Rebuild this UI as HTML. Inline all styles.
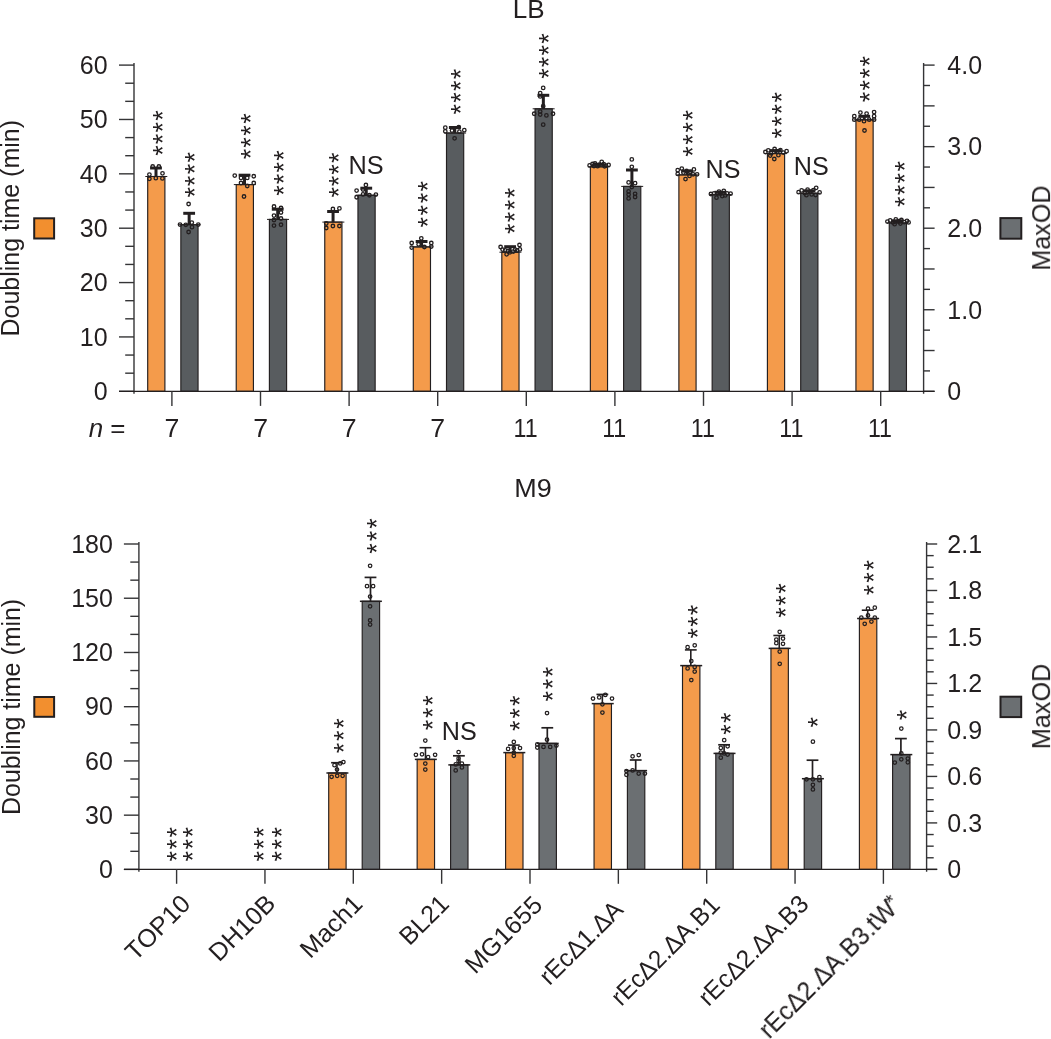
<!DOCTYPE html>
<html><head><meta charset="utf-8"><title>Growth in LB and M9</title>
<style>html,body{margin:0;padding:0;background:#fff}svg{display:block}text{font-family:"Liberation Sans",sans-serif;fill:#231f20}</style></head><body>
<svg width="1051" height="1039" viewBox="0 0 1051 1039">
<rect width="1051" height="1039" fill="#fff"/>
<g style="will-change:transform">
<g id="top-bars">
<rect x="147.7" y="176.5" width="17.2" height="214.8" fill="#f49b4b" stroke="#231f20" stroke-width="1.15"/>
<rect x="180.85" y="224.7" width="17.2" height="166.6" fill="#585c5f" stroke="#231f20" stroke-width="1.15"/>
<rect x="236.23" y="184.6" width="17.2" height="206.7" fill="#f49b4b" stroke="#231f20" stroke-width="1.15"/>
<rect x="269.4" y="219.4" width="17.2" height="171.9" fill="#585c5f" stroke="#231f20" stroke-width="1.15"/>
<rect x="324.76" y="222.1" width="17.2" height="169.2" fill="#f49b4b" stroke="#231f20" stroke-width="1.15"/>
<rect x="357.95" y="195.25" width="17.2" height="196.05" fill="#585c5f" stroke="#231f20" stroke-width="1.15"/>
<rect x="413.29" y="246.9" width="17.2" height="144.4" fill="#f49b4b" stroke="#231f20" stroke-width="1.15"/>
<rect x="446.5" y="133" width="17.2" height="258.3" fill="#585c5f" stroke="#231f20" stroke-width="1.15"/>
<rect x="501.82" y="252.2" width="17.2" height="139.1" fill="#f49b4b" stroke="#231f20" stroke-width="1.15"/>
<rect x="535.05" y="108.8" width="17.2" height="282.5" fill="#585c5f" stroke="#231f20" stroke-width="1.15"/>
<rect x="590.35" y="166.8" width="17.2" height="224.5" fill="#f49b4b" stroke="#231f20" stroke-width="1.15"/>
<rect x="623.6" y="186.4" width="17.2" height="204.9" fill="#585c5f" stroke="#231f20" stroke-width="1.15"/>
<rect x="678.88" y="174.9" width="17.2" height="216.4" fill="#f49b4b" stroke="#231f20" stroke-width="1.15"/>
<rect x="712.15" y="194.5" width="17.2" height="196.8" fill="#585c5f" stroke="#231f20" stroke-width="1.15"/>
<rect x="767.41" y="153.6" width="17.2" height="237.7" fill="#f49b4b" stroke="#231f20" stroke-width="1.15"/>
<rect x="800.7" y="193.3" width="17.2" height="198" fill="#585c5f" stroke="#231f20" stroke-width="1.15"/>
<rect x="855.94" y="119.8" width="17.2" height="271.5" fill="#f49b4b" stroke="#231f20" stroke-width="1.15"/>
<rect x="889.25" y="222.9" width="17.2" height="168.4" fill="#585c5f" stroke="#231f20" stroke-width="1.15"/>
</g>
<g id="top-err">
<line x1="145.3" y1="176.5" x2="167.3" y2="176.5" stroke="#231f20" stroke-width="1.0" stroke-linecap="butt"/>
<line x1="178.45" y1="224.7" x2="200.45" y2="224.7" stroke="#231f20" stroke-width="1.0" stroke-linecap="butt"/>
<line x1="156" y1="176.5" x2="156" y2="168" stroke="#231f20" stroke-width="3.0" stroke-linecap="butt"/>
<line x1="150.1" y1="168" x2="161.9" y2="168" stroke="#231f20" stroke-width="3.0" stroke-linecap="butt"/>
<line x1="189.15" y1="224.7" x2="189.15" y2="213.3" stroke="#231f20" stroke-width="3.0" stroke-linecap="butt"/>
<line x1="183.25" y1="213.3" x2="195.05" y2="213.3" stroke="#231f20" stroke-width="3.0" stroke-linecap="butt"/>
<line x1="233.83" y1="184.6" x2="255.83" y2="184.6" stroke="#231f20" stroke-width="1.0" stroke-linecap="butt"/>
<line x1="267" y1="219.4" x2="289" y2="219.4" stroke="#231f20" stroke-width="1.0" stroke-linecap="butt"/>
<line x1="244.53" y1="184.6" x2="244.53" y2="175.2" stroke="#231f20" stroke-width="3.0" stroke-linecap="butt"/>
<line x1="238.63" y1="175.2" x2="250.43" y2="175.2" stroke="#231f20" stroke-width="3.0" stroke-linecap="butt"/>
<line x1="277.7" y1="219.4" x2="277.7" y2="209.2" stroke="#231f20" stroke-width="3.0" stroke-linecap="butt"/>
<line x1="271.8" y1="209.2" x2="283.6" y2="209.2" stroke="#231f20" stroke-width="3.0" stroke-linecap="butt"/>
<line x1="322.36" y1="222.1" x2="344.36" y2="222.1" stroke="#231f20" stroke-width="1.0" stroke-linecap="butt"/>
<line x1="355.55" y1="195.25" x2="377.55" y2="195.25" stroke="#231f20" stroke-width="1.0" stroke-linecap="butt"/>
<line x1="333.06" y1="222.1" x2="333.06" y2="211.5" stroke="#231f20" stroke-width="3.0" stroke-linecap="butt"/>
<line x1="327.16" y1="211.5" x2="338.96" y2="211.5" stroke="#231f20" stroke-width="3.0" stroke-linecap="butt"/>
<line x1="366.25" y1="195.25" x2="366.25" y2="188.2" stroke="#231f20" stroke-width="3.0" stroke-linecap="butt"/>
<line x1="360.35" y1="188.2" x2="372.15" y2="188.2" stroke="#231f20" stroke-width="3.0" stroke-linecap="butt"/>
<line x1="410.89" y1="246.9" x2="432.89" y2="246.9" stroke="#231f20" stroke-width="1.0" stroke-linecap="butt"/>
<line x1="444.1" y1="133" x2="466.1" y2="133" stroke="#231f20" stroke-width="1.0" stroke-linecap="butt"/>
<line x1="421.59" y1="246.9" x2="421.59" y2="241.5" stroke="#231f20" stroke-width="3.0" stroke-linecap="butt"/>
<line x1="415.69" y1="241.5" x2="427.49" y2="241.5" stroke="#231f20" stroke-width="3.0" stroke-linecap="butt"/>
<line x1="454.8" y1="133" x2="454.8" y2="127.5" stroke="#231f20" stroke-width="3.0" stroke-linecap="butt"/>
<line x1="448.9" y1="127.5" x2="460.7" y2="127.5" stroke="#231f20" stroke-width="3.0" stroke-linecap="butt"/>
<line x1="499.42" y1="252.2" x2="521.42" y2="252.2" stroke="#231f20" stroke-width="1.0" stroke-linecap="butt"/>
<line x1="532.65" y1="108.8" x2="554.65" y2="108.8" stroke="#231f20" stroke-width="1.0" stroke-linecap="butt"/>
<line x1="510.12" y1="252.2" x2="510.12" y2="246.7" stroke="#231f20" stroke-width="3.0" stroke-linecap="butt"/>
<line x1="504.22" y1="246.7" x2="516.02" y2="246.7" stroke="#231f20" stroke-width="3.0" stroke-linecap="butt"/>
<line x1="543.35" y1="108.8" x2="543.35" y2="95.3" stroke="#231f20" stroke-width="3.0" stroke-linecap="butt"/>
<line x1="537.45" y1="95.3" x2="549.25" y2="95.3" stroke="#231f20" stroke-width="3.0" stroke-linecap="butt"/>
<line x1="587.95" y1="166.8" x2="609.95" y2="166.8" stroke="#231f20" stroke-width="1.0" stroke-linecap="butt"/>
<line x1="621.2" y1="186.4" x2="643.2" y2="186.4" stroke="#231f20" stroke-width="1.0" stroke-linecap="butt"/>
<line x1="598.65" y1="166.8" x2="598.65" y2="164.3" stroke="#231f20" stroke-width="3.0" stroke-linecap="butt"/>
<line x1="592.75" y1="164.3" x2="604.55" y2="164.3" stroke="#231f20" stroke-width="3.0" stroke-linecap="butt"/>
<line x1="631.9" y1="186.4" x2="631.9" y2="170" stroke="#231f20" stroke-width="3.0" stroke-linecap="butt"/>
<line x1="626" y1="170" x2="637.8" y2="170" stroke="#231f20" stroke-width="3.0" stroke-linecap="butt"/>
<line x1="676.48" y1="174.9" x2="698.48" y2="174.9" stroke="#231f20" stroke-width="1.0" stroke-linecap="butt"/>
<line x1="709.75" y1="194.5" x2="731.75" y2="194.5" stroke="#231f20" stroke-width="1.0" stroke-linecap="butt"/>
<line x1="687.18" y1="174.9" x2="687.18" y2="171" stroke="#231f20" stroke-width="3.0" stroke-linecap="butt"/>
<line x1="681.28" y1="171" x2="693.08" y2="171" stroke="#231f20" stroke-width="3.0" stroke-linecap="butt"/>
<line x1="720.45" y1="194.5" x2="720.45" y2="192.3" stroke="#231f20" stroke-width="3.0" stroke-linecap="butt"/>
<line x1="714.55" y1="192.3" x2="726.35" y2="192.3" stroke="#231f20" stroke-width="3.0" stroke-linecap="butt"/>
<line x1="765.01" y1="153.6" x2="787.01" y2="153.6" stroke="#231f20" stroke-width="1.0" stroke-linecap="butt"/>
<line x1="798.3" y1="193.3" x2="820.3" y2="193.3" stroke="#231f20" stroke-width="1.0" stroke-linecap="butt"/>
<line x1="775.71" y1="153.6" x2="775.71" y2="150.6" stroke="#231f20" stroke-width="3.0" stroke-linecap="butt"/>
<line x1="769.81" y1="150.6" x2="781.61" y2="150.6" stroke="#231f20" stroke-width="3.0" stroke-linecap="butt"/>
<line x1="809" y1="193.3" x2="809" y2="190.8" stroke="#231f20" stroke-width="3.0" stroke-linecap="butt"/>
<line x1="803.1" y1="190.8" x2="814.9" y2="190.8" stroke="#231f20" stroke-width="3.0" stroke-linecap="butt"/>
<line x1="853.54" y1="119.8" x2="875.54" y2="119.8" stroke="#231f20" stroke-width="1.0" stroke-linecap="butt"/>
<line x1="886.85" y1="222.9" x2="908.85" y2="222.9" stroke="#231f20" stroke-width="1.0" stroke-linecap="butt"/>
<line x1="864.24" y1="119.8" x2="864.24" y2="116.3" stroke="#231f20" stroke-width="3.0" stroke-linecap="butt"/>
<line x1="858.34" y1="116.3" x2="870.14" y2="116.3" stroke="#231f20" stroke-width="3.0" stroke-linecap="butt"/>
<line x1="897.55" y1="222.9" x2="897.55" y2="220.8" stroke="#231f20" stroke-width="3.0" stroke-linecap="butt"/>
<line x1="891.65" y1="220.8" x2="903.45" y2="220.8" stroke="#231f20" stroke-width="3.0" stroke-linecap="butt"/>
</g>
<g id="top-axes">
<line x1="134" y1="62.9" x2="134" y2="393.7" stroke="#343436" stroke-width="1.4" stroke-linecap="butt"/>
<line x1="923.6" y1="62.9" x2="923.6" y2="393.7" stroke="#343436" stroke-width="1.4" stroke-linecap="butt"/>
<line x1="119" y1="65.1" x2="134" y2="65.1" stroke="#343436" stroke-width="1.4" stroke-linecap="butt"/>
<line x1="125.2" y1="83.22" x2="134" y2="83.22" stroke="#343436" stroke-width="1.4" stroke-linecap="butt"/>
<line x1="125.2" y1="101.34" x2="134" y2="101.34" stroke="#343436" stroke-width="1.4" stroke-linecap="butt"/>
<line x1="119" y1="119.47" x2="134" y2="119.47" stroke="#343436" stroke-width="1.4" stroke-linecap="butt"/>
<line x1="125.2" y1="137.59" x2="134" y2="137.59" stroke="#343436" stroke-width="1.4" stroke-linecap="butt"/>
<line x1="125.2" y1="155.71" x2="134" y2="155.71" stroke="#343436" stroke-width="1.4" stroke-linecap="butt"/>
<line x1="119" y1="173.83" x2="134" y2="173.83" stroke="#343436" stroke-width="1.4" stroke-linecap="butt"/>
<line x1="125.2" y1="191.96" x2="134" y2="191.96" stroke="#343436" stroke-width="1.4" stroke-linecap="butt"/>
<line x1="125.2" y1="210.08" x2="134" y2="210.08" stroke="#343436" stroke-width="1.4" stroke-linecap="butt"/>
<line x1="119" y1="228.2" x2="134" y2="228.2" stroke="#343436" stroke-width="1.4" stroke-linecap="butt"/>
<line x1="125.2" y1="246.32" x2="134" y2="246.32" stroke="#343436" stroke-width="1.4" stroke-linecap="butt"/>
<line x1="125.2" y1="264.44" x2="134" y2="264.44" stroke="#343436" stroke-width="1.4" stroke-linecap="butt"/>
<line x1="119" y1="282.57" x2="134" y2="282.57" stroke="#343436" stroke-width="1.4" stroke-linecap="butt"/>
<line x1="125.2" y1="300.69" x2="134" y2="300.69" stroke="#343436" stroke-width="1.4" stroke-linecap="butt"/>
<line x1="125.2" y1="318.81" x2="134" y2="318.81" stroke="#343436" stroke-width="1.4" stroke-linecap="butt"/>
<line x1="119" y1="336.93" x2="134" y2="336.93" stroke="#343436" stroke-width="1.4" stroke-linecap="butt"/>
<line x1="125.2" y1="355.06" x2="134" y2="355.06" stroke="#343436" stroke-width="1.4" stroke-linecap="butt"/>
<line x1="125.2" y1="373.18" x2="134" y2="373.18" stroke="#343436" stroke-width="1.4" stroke-linecap="butt"/>
<line x1="119" y1="391.3" x2="134" y2="391.3" stroke="#343436" stroke-width="1.4" stroke-linecap="butt"/>
<line x1="923.6" y1="65.1" x2="934.6" y2="65.1" stroke="#343436" stroke-width="1.4" stroke-linecap="butt"/>
<line x1="923.6" y1="85.49" x2="930" y2="85.49" stroke="#343436" stroke-width="1.4" stroke-linecap="butt"/>
<line x1="923.6" y1="105.88" x2="934.6" y2="105.88" stroke="#343436" stroke-width="1.4" stroke-linecap="butt"/>
<line x1="923.6" y1="126.26" x2="930" y2="126.26" stroke="#343436" stroke-width="1.4" stroke-linecap="butt"/>
<line x1="923.6" y1="146.65" x2="934.6" y2="146.65" stroke="#343436" stroke-width="1.4" stroke-linecap="butt"/>
<line x1="923.6" y1="167.04" x2="930" y2="167.04" stroke="#343436" stroke-width="1.4" stroke-linecap="butt"/>
<line x1="923.6" y1="187.43" x2="934.6" y2="187.43" stroke="#343436" stroke-width="1.4" stroke-linecap="butt"/>
<line x1="923.6" y1="207.81" x2="930" y2="207.81" stroke="#343436" stroke-width="1.4" stroke-linecap="butt"/>
<line x1="923.6" y1="228.2" x2="934.6" y2="228.2" stroke="#343436" stroke-width="1.4" stroke-linecap="butt"/>
<line x1="923.6" y1="248.59" x2="930" y2="248.59" stroke="#343436" stroke-width="1.4" stroke-linecap="butt"/>
<line x1="923.6" y1="268.98" x2="934.6" y2="268.98" stroke="#343436" stroke-width="1.4" stroke-linecap="butt"/>
<line x1="923.6" y1="289.36" x2="930" y2="289.36" stroke="#343436" stroke-width="1.4" stroke-linecap="butt"/>
<line x1="923.6" y1="309.75" x2="934.6" y2="309.75" stroke="#343436" stroke-width="1.4" stroke-linecap="butt"/>
<line x1="923.6" y1="330.14" x2="930" y2="330.14" stroke="#343436" stroke-width="1.4" stroke-linecap="butt"/>
<line x1="923.6" y1="350.53" x2="934.6" y2="350.53" stroke="#343436" stroke-width="1.4" stroke-linecap="butt"/>
<line x1="923.6" y1="370.91" x2="930" y2="370.91" stroke="#343436" stroke-width="1.4" stroke-linecap="butt"/>
<line x1="923.6" y1="391.3" x2="934.6" y2="391.3" stroke="#343436" stroke-width="1.4" stroke-linecap="butt"/>
<line x1="119" y1="391.3" x2="934.6" y2="391.3" stroke="#231f20" stroke-width="1.2" stroke-linecap="butt"/>
<line x1="171.9" y1="391.3" x2="171.9" y2="405.9" stroke="#343436" stroke-width="1.4" stroke-linecap="butt"/>
<line x1="260.5" y1="391.3" x2="260.5" y2="405.9" stroke="#343436" stroke-width="1.4" stroke-linecap="butt"/>
<line x1="349.1" y1="391.3" x2="349.1" y2="405.9" stroke="#343436" stroke-width="1.4" stroke-linecap="butt"/>
<line x1="437.7" y1="391.3" x2="437.7" y2="405.9" stroke="#343436" stroke-width="1.4" stroke-linecap="butt"/>
<line x1="526.3" y1="391.3" x2="526.3" y2="405.9" stroke="#343436" stroke-width="1.4" stroke-linecap="butt"/>
<line x1="614.9" y1="391.3" x2="614.9" y2="405.9" stroke="#343436" stroke-width="1.4" stroke-linecap="butt"/>
<line x1="703.5" y1="391.3" x2="703.5" y2="405.9" stroke="#343436" stroke-width="1.4" stroke-linecap="butt"/>
<line x1="792.1" y1="391.3" x2="792.1" y2="405.9" stroke="#343436" stroke-width="1.4" stroke-linecap="butt"/>
<line x1="880.7" y1="391.3" x2="880.7" y2="405.9" stroke="#343436" stroke-width="1.4" stroke-linecap="butt"/>
</g>
<g id="top-labels">
<text x="107.6" y="73.85" font-size="25.0" text-anchor="end" >60</text>
<text x="107.6" y="128.22" font-size="25.0" text-anchor="end" >50</text>
<text x="107.6" y="182.58" font-size="25.0" text-anchor="end" >40</text>
<text x="107.6" y="236.95" font-size="25.0" text-anchor="end" >30</text>
<text x="107.6" y="291.32" font-size="25.0" text-anchor="end" >20</text>
<text x="107.6" y="345.68" font-size="25.0" text-anchor="end" >10</text>
<text x="107.6" y="400.05" font-size="25.0" text-anchor="end" >0</text>
<text x="947.3" y="73.85" font-size="25.0" text-anchor="start" >4.0</text>
<text x="947.3" y="155.4" font-size="25.0" text-anchor="start" >3.0</text>
<text x="947.3" y="236.95" font-size="25.0" text-anchor="start" >2.0</text>
<text x="947.3" y="318.5" font-size="25.0" text-anchor="start" >1.0</text>
<text x="947.3" y="400.05" font-size="25.0" text-anchor="start" >0</text>
<text x="512.72" y="17.9" font-size="25.2" textLength="31.87" lengthAdjust="spacingAndGlyphs">LB</text>
<text x="88.68" y="436.5" font-size="25.0" textLength="36.87" lengthAdjust="spacingAndGlyphs"><tspan font-style="italic">n</tspan> =</text>
<text x="164.56" y="436.5" font-size="25.0" textLength="14.87" lengthAdjust="spacingAndGlyphs">7</text>
<text x="253.16" y="436.5" font-size="25.0" textLength="14.87" lengthAdjust="spacingAndGlyphs">7</text>
<text x="341.76" y="436.5" font-size="25.0" textLength="14.87" lengthAdjust="spacingAndGlyphs">7</text>
<text x="430.36" y="436.5" font-size="25.0" textLength="14.87" lengthAdjust="spacingAndGlyphs">7</text>
<text x="513.55" y="436.5" font-size="25.0" textLength="24.07" lengthAdjust="spacingAndGlyphs">11</text>
<text x="602.15" y="436.5" font-size="25.0" textLength="24.07" lengthAdjust="spacingAndGlyphs">11</text>
<text x="690.75" y="436.5" font-size="25.0" textLength="24.07" lengthAdjust="spacingAndGlyphs">11</text>
<text x="779.35" y="436.5" font-size="25.0" textLength="24.07" lengthAdjust="spacingAndGlyphs">11</text>
<text x="867.95" y="436.5" font-size="25.0" textLength="24.07" lengthAdjust="spacingAndGlyphs">11</text>
<text transform="translate(19.4 336.5) rotate(-90)" font-size="25.2" textLength="216.48" lengthAdjust="spacingAndGlyphs">Doubling time (min)</text>
<text transform="translate(1050.1 270.61) rotate(-90)" font-size="25.2" textLength="85.04" lengthAdjust="spacingAndGlyphs">MaxOD</text>
</g>
<rect x="34.2" y="218.3" width="19.9" height="20.2" fill="#f28f2f" stroke="#231f20" stroke-width="2"/>
<rect x="1000.4" y="218.1" width="20.9" height="20.6" fill="#6b6f72" stroke="#231f20" stroke-width="2"/>
<g id="top-sig">
<text transform="translate(171.91 120.77) rotate(-90)" font-size="27.0">*</text>
<text transform="translate(171.91 132.56) rotate(-90)" font-size="27.0">*</text>
<text transform="translate(171.91 144.26) rotate(-90)" font-size="27.0">*</text>
<text transform="translate(171.91 155.87) rotate(-90)" font-size="27.0">*</text>
<text transform="translate(203.91 162.51) rotate(-90)" font-size="27.0">*</text>
<text transform="translate(203.91 174.26) rotate(-90)" font-size="27.0">*</text>
<text transform="translate(203.91 186.17) rotate(-90)" font-size="27.0">*</text>
<text transform="translate(203.91 197.56) rotate(-90)" font-size="27.0">*</text>
<text transform="translate(260 123.67) rotate(-90)" font-size="27.0">*</text>
<text transform="translate(260 135.67) rotate(-90)" font-size="27.0">*</text>
<text transform="translate(260 147.67) rotate(-90)" font-size="27.0">*</text>
<text transform="translate(260 159.26) rotate(-90)" font-size="27.0">*</text>
<text transform="translate(292.65 160.67) rotate(-90)" font-size="27.0">*</text>
<text transform="translate(292.65 172.51) rotate(-90)" font-size="27.0">*</text>
<text transform="translate(292.65 184.26) rotate(-90)" font-size="27.0">*</text>
<text transform="translate(292.65 195.87) rotate(-90)" font-size="27.0">*</text>
<text transform="translate(347.65 163.01) rotate(-90)" font-size="27.0">*</text>
<text transform="translate(347.65 174.67) rotate(-90)" font-size="27.0">*</text>
<text transform="translate(347.65 186.26) rotate(-90)" font-size="27.0">*</text>
<text transform="translate(347.65 197.56) rotate(-90)" font-size="27.0">*</text>
<text transform="translate(436.8 191.51) rotate(-90)" font-size="27.0">*</text>
<text transform="translate(436.8 203.37) rotate(-90)" font-size="27.0">*</text>
<text transform="translate(436.8 215.51) rotate(-90)" font-size="27.0">*</text>
<text transform="translate(436.8 227.56) rotate(-90)" font-size="27.0">*</text>
<text transform="translate(469.9 79.27) rotate(-90)" font-size="27.0">*</text>
<text transform="translate(469.9 91.06) rotate(-90)" font-size="27.0">*</text>
<text transform="translate(469.9 102.67) rotate(-90)" font-size="27.0">*</text>
<text transform="translate(469.9 114.47) rotate(-90)" font-size="27.0">*</text>
<text transform="translate(524.21 198.26) rotate(-90)" font-size="27.0">*</text>
<text transform="translate(524.21 210.26) rotate(-90)" font-size="27.0">*</text>
<text transform="translate(524.21 222.26) rotate(-90)" font-size="27.0">*</text>
<text transform="translate(524.21 233.96) rotate(-90)" font-size="27.0">*</text>
<text transform="translate(557.9 43.77) rotate(-90)" font-size="27.0">*</text>
<text transform="translate(557.9 55.56) rotate(-90)" font-size="27.0">*</text>
<text transform="translate(557.9 67.37) rotate(-90)" font-size="27.0">*</text>
<text transform="translate(557.9 78.86) rotate(-90)" font-size="27.0">*</text>
<text transform="translate(701.9 120.47) rotate(-90)" font-size="27.0">*</text>
<text transform="translate(701.9 132.56) rotate(-90)" font-size="27.0">*</text>
<text transform="translate(701.9 144.67) rotate(-90)" font-size="27.0">*</text>
<text transform="translate(701.9 156.76) rotate(-90)" font-size="27.0">*</text>
<text transform="translate(790.7 102.47) rotate(-90)" font-size="27.0">*</text>
<text transform="translate(790.7 114.56) rotate(-90)" font-size="27.0">*</text>
<text transform="translate(790.7 126.56) rotate(-90)" font-size="27.0">*</text>
<text transform="translate(790.7 138.46) rotate(-90)" font-size="27.0">*</text>
<text transform="translate(878.8 66.47) rotate(-90)" font-size="27.0">*</text>
<text transform="translate(878.8 78.56) rotate(-90)" font-size="27.0">*</text>
<text transform="translate(878.8 90.56) rotate(-90)" font-size="27.0">*</text>
<text transform="translate(878.8 102.36) rotate(-90)" font-size="27.0">*</text>
<text transform="translate(913.7 171.56) rotate(-90)" font-size="27.0">*</text>
<text transform="translate(913.7 183.46) rotate(-90)" font-size="27.0">*</text>
<text transform="translate(913.7 195.26) rotate(-90)" font-size="27.0">*</text>
<text transform="translate(913.7 207.06) rotate(-90)" font-size="27.0">*</text>
<text x="348.57" y="173.8" font-size="25.2" textLength="35.17" lengthAdjust="spacingAndGlyphs">NS</text>
<text x="705.59" y="177.8" font-size="25.2" textLength="34.84" lengthAdjust="spacingAndGlyphs">NS</text>
<text x="793.79" y="174.5" font-size="25.2" textLength="34.95" lengthAdjust="spacingAndGlyphs">NS</text>
</g>
<g id="top-dots" fill="none" stroke="#231f20" stroke-width="1.3">
<circle cx="152.7" cy="166.5" r="1.75"/>
<circle cx="158.9" cy="166.5" r="1.75"/>
<circle cx="162.5" cy="173.3" r="1.75"/>
<circle cx="149.4" cy="174.6" r="1.75"/>
<circle cx="149.4" cy="178.8" r="1.75"/>
<circle cx="155.8" cy="178.2" r="1.75"/>
<circle cx="162.4" cy="178.4" r="1.75"/>
<circle cx="188.6" cy="204" r="1.75"/>
<circle cx="180" cy="224.6" r="1.75"/>
<circle cx="185.8" cy="224.8" r="1.75"/>
<circle cx="191.8" cy="222.6" r="1.75"/>
<circle cx="198.3" cy="224.6" r="1.75"/>
<circle cx="192" cy="227.2" r="1.75"/>
<circle cx="188.6" cy="232" r="1.75"/>
<circle cx="234.75" cy="175.6" r="1.75"/>
<circle cx="253.75" cy="176.25" r="1.75"/>
<circle cx="241" cy="177.9" r="1.75"/>
<circle cx="247.25" cy="177.9" r="1.75"/>
<circle cx="241" cy="183" r="1.75"/>
<circle cx="253.75" cy="183" r="1.75"/>
<circle cx="247.25" cy="186" r="1.75"/>
<circle cx="244" cy="196.5" r="1.75"/>
<circle cx="274" cy="206.5" r="1.75"/>
<circle cx="281" cy="208" r="1.75"/>
<circle cx="281" cy="212.5" r="1.75"/>
<circle cx="274" cy="215.6" r="1.75"/>
<circle cx="281" cy="218.5" r="1.75"/>
<circle cx="274" cy="220" r="1.75"/>
<circle cx="274" cy="225.6" r="1.75"/>
<circle cx="281" cy="224.75" r="1.75"/>
<circle cx="339.4" cy="208.4" r="1.75"/>
<circle cx="332.9" cy="209" r="1.75"/>
<circle cx="326.25" cy="223.5" r="1.75"/>
<circle cx="326.25" cy="228" r="1.75"/>
<circle cx="332.9" cy="226" r="1.75"/>
<circle cx="339.4" cy="226" r="1.75"/>
<circle cx="365.9" cy="185" r="1.75"/>
<circle cx="356.6" cy="190.6" r="1.75"/>
<circle cx="356.6" cy="197.25" r="1.75"/>
<circle cx="375.9" cy="194.6" r="1.75"/>
<circle cx="363" cy="194.4" r="1.75"/>
<circle cx="369.4" cy="195.25" r="1.75"/>
<circle cx="363" cy="189.5" r="1.75"/>
<circle cx="543.2" cy="87.9" r="1.75"/>
<circle cx="540.2" cy="93.1" r="1.75"/>
<circle cx="540.2" cy="96.4" r="1.75"/>
<circle cx="543.2" cy="106.2" r="1.75"/>
<circle cx="534.2" cy="113.75" r="1.75"/>
<circle cx="540.2" cy="111.6" r="1.75"/>
<circle cx="540.2" cy="114.6" r="1.75"/>
<circle cx="546.4" cy="115.4" r="1.75"/>
<circle cx="553" cy="113.75" r="1.75"/>
<circle cx="543.2" cy="124.7" r="1.75"/>
<circle cx="631.8" cy="159.4" r="1.75"/>
<circle cx="631.8" cy="166.8" r="1.75"/>
<circle cx="628.6" cy="182.4" r="1.75"/>
<circle cx="635.1" cy="183.2" r="1.75"/>
<circle cx="631.8" cy="187" r="1.75"/>
<circle cx="628.6" cy="191.4" r="1.75"/>
<circle cx="628.6" cy="194.6" r="1.75"/>
<circle cx="628.6" cy="198.4" r="1.75"/>
<circle cx="635.1" cy="193.8" r="1.75"/>
<circle cx="635.1" cy="197" r="1.75"/>
<circle cx="864.5" cy="130.5" r="1.75"/>
<circle cx="454.6" cy="138.3" r="1.75"/>
<circle cx="411.7" cy="243" r="1.75"/>
<circle cx="411.7" cy="247.6" r="1.75"/>
<circle cx="421.3" cy="238.3" r="1.75"/>
<circle cx="431.3" cy="243" r="1.75"/>
<circle cx="431.3" cy="246.6" r="1.75"/>
<circle cx="424.4" cy="247" r="1.75"/>
<circle cx="418.6" cy="244.3" r="1.75"/>
<circle cx="445.3" cy="127.7" r="1.75"/>
<circle cx="445.3" cy="131.3" r="1.75"/>
<circle cx="464.3" cy="130.2" r="1.75"/>
<circle cx="459.4" cy="131.7" r="1.75"/>
<circle cx="458.8" cy="127.2" r="1.75"/>
<circle cx="452" cy="130.6" r="1.75"/>
<circle cx="500.6" cy="247" r="1.75"/>
<circle cx="502.6" cy="249.6" r="1.75"/>
<circle cx="519.5" cy="245" r="1.75"/>
<circle cx="519.9" cy="249.4" r="1.75"/>
<circle cx="517.2" cy="250.3" r="1.75"/>
<circle cx="506.6" cy="254.3" r="1.75"/>
<circle cx="509.9" cy="252.3" r="1.75"/>
<circle cx="513.2" cy="251.6" r="1.75"/>
<circle cx="505.2" cy="250.3" r="1.75"/>
<circle cx="507.9" cy="251" r="1.75"/>
<circle cx="515.2" cy="249.6" r="1.75"/>
<circle cx="601.7" cy="161.8" r="1.75"/>
<circle cx="589.6" cy="165.4" r="1.75"/>
<circle cx="608.6" cy="164.9" r="1.75"/>
<circle cx="597.6" cy="166.2" r="1.75"/>
<circle cx="592.5" cy="164" r="1.75"/>
<circle cx="595" cy="163.5" r="1.75"/>
<circle cx="599.5" cy="164.6" r="1.75"/>
<circle cx="603.8" cy="164.2" r="1.75"/>
<circle cx="606" cy="165.6" r="1.75"/>
<circle cx="594" cy="166" r="1.75"/>
<circle cx="604.6" cy="166.3" r="1.75"/>
<circle cx="677.7" cy="170.2" r="1.75"/>
<circle cx="677.7" cy="173.9" r="1.75"/>
<circle cx="681.8" cy="168.6" r="1.75"/>
<circle cx="693.9" cy="169.4" r="1.75"/>
<circle cx="697.1" cy="174.3" r="1.75"/>
<circle cx="693.1" cy="174.3" r="1.75"/>
<circle cx="689.5" cy="175.9" r="1.75"/>
<circle cx="685.5" cy="179.1" r="1.75"/>
<circle cx="686.6" cy="171" r="1.75"/>
<circle cx="690.2" cy="171.8" r="1.75"/>
<circle cx="683.4" cy="172.6" r="1.75"/>
<circle cx="710.9" cy="194" r="1.75"/>
<circle cx="730.6" cy="193.7" r="1.75"/>
<circle cx="723.8" cy="190.8" r="1.75"/>
<circle cx="716.5" cy="197.7" r="1.75"/>
<circle cx="720.6" cy="193.7" r="1.75"/>
<circle cx="717.4" cy="193.7" r="1.75"/>
<circle cx="714.1" cy="193.4" r="1.75"/>
<circle cx="727" cy="193.4" r="1.75"/>
<circle cx="722.2" cy="196.1" r="1.75"/>
<circle cx="725.2" cy="195.4" r="1.75"/>
<circle cx="719" cy="191.6" r="1.75"/>
<circle cx="765.4" cy="152" r="1.75"/>
<circle cx="768.3" cy="150.3" r="1.75"/>
<circle cx="771.2" cy="153.4" r="1.75"/>
<circle cx="774.6" cy="149" r="1.75"/>
<circle cx="777.5" cy="151.5" r="1.75"/>
<circle cx="780.4" cy="150.2" r="1.75"/>
<circle cx="783.3" cy="152.6" r="1.75"/>
<circle cx="786.6" cy="151.2" r="1.75"/>
<circle cx="770.2" cy="155.6" r="1.75"/>
<circle cx="778.4" cy="155.2" r="1.75"/>
<circle cx="774.3" cy="159" r="1.75"/>
<circle cx="798.6" cy="192.2" r="1.75"/>
<circle cx="801.6" cy="190.4" r="1.75"/>
<circle cx="804.8" cy="193.2" r="1.75"/>
<circle cx="807.6" cy="189.6" r="1.75"/>
<circle cx="810.4" cy="191.8" r="1.75"/>
<circle cx="813.4" cy="190.2" r="1.75"/>
<circle cx="816.2" cy="187.8" r="1.75"/>
<circle cx="819.6" cy="192.4" r="1.75"/>
<circle cx="815.6" cy="195" r="1.75"/>
<circle cx="806.4" cy="195.2" r="1.75"/>
<circle cx="811.6" cy="194.4" r="1.75"/>
<circle cx="874.1" cy="112.1" r="1.75"/>
<circle cx="874.1" cy="116.2" r="1.75"/>
<circle cx="874.1" cy="119.7" r="1.75"/>
<circle cx="854.3" cy="116.2" r="1.75"/>
<circle cx="854.3" cy="119.7" r="1.75"/>
<circle cx="859.2" cy="119.7" r="1.75"/>
<circle cx="864" cy="121.2" r="1.75"/>
<circle cx="869.2" cy="119.7" r="1.75"/>
<circle cx="860.4" cy="112.6" r="1.75"/>
<circle cx="866.6" cy="113.6" r="1.75"/>
<circle cx="887.4" cy="221.6" r="1.75"/>
<circle cx="890.2" cy="220.4" r="1.75"/>
<circle cx="893" cy="222.4" r="1.75"/>
<circle cx="895.8" cy="219.4" r="1.75"/>
<circle cx="898.6" cy="221.2" r="1.75"/>
<circle cx="901.4" cy="220" r="1.75"/>
<circle cx="904.2" cy="222.2" r="1.75"/>
<circle cx="907" cy="220.8" r="1.75"/>
<circle cx="908.6" cy="222.4" r="1.75"/>
<circle cx="894.6" cy="224.2" r="1.75"/>
<circle cx="900.4" cy="223.6" r="1.75"/>
</g>
<g id="bot-bars">
<rect x="328.7" y="773" width="17.4" height="96.4" fill="#f49b4b" stroke="#231f20" stroke-width="1.15"/>
<rect x="362.2" y="601.3" width="17.4" height="268.1" fill="#6b6f72" stroke="#231f20" stroke-width="1.15"/>
<rect x="417.15" y="759.4" width="17.4" height="110" fill="#f49b4b" stroke="#231f20" stroke-width="1.15"/>
<rect x="450.6" y="764.9" width="17.4" height="104.5" fill="#6b6f72" stroke="#231f20" stroke-width="1.15"/>
<rect x="505.6" y="752.6" width="17.4" height="116.8" fill="#f49b4b" stroke="#231f20" stroke-width="1.15"/>
<rect x="539" y="743.4" width="17.4" height="126" fill="#6b6f72" stroke="#231f20" stroke-width="1.15"/>
<rect x="594.05" y="703.6" width="17.4" height="165.8" fill="#f49b4b" stroke="#231f20" stroke-width="1.15"/>
<rect x="627.4" y="770.6" width="17.4" height="98.8" fill="#6b6f72" stroke="#231f20" stroke-width="1.15"/>
<rect x="682.5" y="665.6" width="17.4" height="203.8" fill="#f49b4b" stroke="#231f20" stroke-width="1.15"/>
<rect x="715.8" y="753.4" width="17.4" height="116" fill="#6b6f72" stroke="#231f20" stroke-width="1.15"/>
<rect x="770.95" y="648.4" width="17.4" height="221" fill="#f49b4b" stroke="#231f20" stroke-width="1.15"/>
<rect x="804.2" y="778.7" width="17.4" height="90.7" fill="#6b6f72" stroke="#231f20" stroke-width="1.15"/>
<rect x="859.4" y="618.5" width="17.4" height="250.9" fill="#f49b4b" stroke="#231f20" stroke-width="1.15"/>
<rect x="892.6" y="754.6" width="17.4" height="114.8" fill="#6b6f72" stroke="#231f20" stroke-width="1.15"/>
</g>
<g id="bot-err">
<line x1="326.4" y1="773" x2="348.4" y2="773" stroke="#231f20" stroke-width="1.5" stroke-linecap="butt"/>
<line x1="359.9" y1="601.3" x2="381.9" y2="601.3" stroke="#231f20" stroke-width="1.5" stroke-linecap="butt"/>
<line x1="337" y1="773" x2="337" y2="762.7" stroke="#231f20" stroke-width="1.6" stroke-linecap="butt"/>
<line x1="331.1" y1="762.7" x2="342.9" y2="762.7" stroke="#231f20" stroke-width="1.6" stroke-linecap="butt"/>
<line x1="370.5" y1="601.3" x2="370.5" y2="577.4" stroke="#231f20" stroke-width="1.7" stroke-linecap="butt"/>
<line x1="364.6" y1="577.4" x2="376.4" y2="577.4" stroke="#231f20" stroke-width="1.7" stroke-linecap="butt"/>
<line x1="414.85" y1="759.4" x2="436.85" y2="759.4" stroke="#231f20" stroke-width="1.5" stroke-linecap="butt"/>
<line x1="448.3" y1="764.9" x2="470.3" y2="764.9" stroke="#231f20" stroke-width="1.5" stroke-linecap="butt"/>
<line x1="425.45" y1="759.4" x2="425.45" y2="747.7" stroke="#231f20" stroke-width="1.6" stroke-linecap="butt"/>
<line x1="419.55" y1="747.7" x2="431.35" y2="747.7" stroke="#231f20" stroke-width="1.6" stroke-linecap="butt"/>
<line x1="458.9" y1="764.9" x2="458.9" y2="755.8" stroke="#231f20" stroke-width="1.7" stroke-linecap="butt"/>
<line x1="453" y1="755.8" x2="464.8" y2="755.8" stroke="#231f20" stroke-width="1.7" stroke-linecap="butt"/>
<line x1="503.3" y1="752.6" x2="525.3" y2="752.6" stroke="#231f20" stroke-width="1.5" stroke-linecap="butt"/>
<line x1="536.7" y1="743.4" x2="558.7" y2="743.4" stroke="#231f20" stroke-width="1.5" stroke-linecap="butt"/>
<line x1="513.9" y1="752.6" x2="513.9" y2="745.1" stroke="#231f20" stroke-width="1.6" stroke-linecap="butt"/>
<line x1="508" y1="745.1" x2="519.8" y2="745.1" stroke="#231f20" stroke-width="1.6" stroke-linecap="butt"/>
<line x1="547.3" y1="743.4" x2="547.3" y2="727.8" stroke="#231f20" stroke-width="1.7" stroke-linecap="butt"/>
<line x1="541.4" y1="727.8" x2="553.2" y2="727.8" stroke="#231f20" stroke-width="1.7" stroke-linecap="butt"/>
<line x1="591.75" y1="703.6" x2="613.75" y2="703.6" stroke="#231f20" stroke-width="1.5" stroke-linecap="butt"/>
<line x1="625.1" y1="770.6" x2="647.1" y2="770.6" stroke="#231f20" stroke-width="1.5" stroke-linecap="butt"/>
<line x1="602.35" y1="703.6" x2="602.35" y2="694.4" stroke="#231f20" stroke-width="1.6" stroke-linecap="butt"/>
<line x1="596.45" y1="694.4" x2="608.25" y2="694.4" stroke="#231f20" stroke-width="1.6" stroke-linecap="butt"/>
<line x1="635.7" y1="770.6" x2="635.7" y2="760" stroke="#231f20" stroke-width="1.7" stroke-linecap="butt"/>
<line x1="629.8" y1="760" x2="641.6" y2="760" stroke="#231f20" stroke-width="1.7" stroke-linecap="butt"/>
<line x1="680.2" y1="665.6" x2="702.2" y2="665.6" stroke="#231f20" stroke-width="1.5" stroke-linecap="butt"/>
<line x1="713.5" y1="753.4" x2="735.5" y2="753.4" stroke="#231f20" stroke-width="1.5" stroke-linecap="butt"/>
<line x1="690.8" y1="665.6" x2="690.8" y2="649.9" stroke="#231f20" stroke-width="1.6" stroke-linecap="butt"/>
<line x1="684.9" y1="649.9" x2="696.7" y2="649.9" stroke="#231f20" stroke-width="1.6" stroke-linecap="butt"/>
<line x1="724.1" y1="753.4" x2="724.1" y2="744.8" stroke="#231f20" stroke-width="1.7" stroke-linecap="butt"/>
<line x1="718.2" y1="744.8" x2="730" y2="744.8" stroke="#231f20" stroke-width="1.7" stroke-linecap="butt"/>
<line x1="768.65" y1="648.4" x2="790.65" y2="648.4" stroke="#231f20" stroke-width="1.5" stroke-linecap="butt"/>
<line x1="801.9" y1="778.7" x2="823.9" y2="778.7" stroke="#231f20" stroke-width="1.5" stroke-linecap="butt"/>
<line x1="779.25" y1="648.4" x2="779.25" y2="635.5" stroke="#231f20" stroke-width="1.6" stroke-linecap="butt"/>
<line x1="773.35" y1="635.5" x2="785.15" y2="635.5" stroke="#231f20" stroke-width="1.6" stroke-linecap="butt"/>
<line x1="812.5" y1="778.7" x2="812.5" y2="760.2" stroke="#231f20" stroke-width="1.7" stroke-linecap="butt"/>
<line x1="806.6" y1="760.2" x2="818.4" y2="760.2" stroke="#231f20" stroke-width="1.7" stroke-linecap="butt"/>
<line x1="857.1" y1="618.5" x2="879.1" y2="618.5" stroke="#231f20" stroke-width="1.5" stroke-linecap="butt"/>
<line x1="890.3" y1="754.6" x2="912.3" y2="754.6" stroke="#231f20" stroke-width="1.5" stroke-linecap="butt"/>
<line x1="867.7" y1="618.5" x2="867.7" y2="610.2" stroke="#231f20" stroke-width="1.6" stroke-linecap="butt"/>
<line x1="861.8" y1="610.2" x2="873.6" y2="610.2" stroke="#231f20" stroke-width="1.6" stroke-linecap="butt"/>
<line x1="900.9" y1="754.6" x2="900.9" y2="738.6" stroke="#231f20" stroke-width="1.7" stroke-linecap="butt"/>
<line x1="895" y1="738.6" x2="906.8" y2="738.6" stroke="#231f20" stroke-width="1.7" stroke-linecap="butt"/>
</g>
<g id="bot-axes">
<line x1="138.9" y1="542" x2="138.9" y2="871.8" stroke="#343436" stroke-width="1.4" stroke-linecap="butt"/>
<line x1="926.6" y1="542" x2="926.6" y2="871.8" stroke="#343436" stroke-width="1.4" stroke-linecap="butt"/>
<line x1="123.9" y1="544" x2="138.9" y2="544" stroke="#343436" stroke-width="1.4" stroke-linecap="butt"/>
<line x1="130.3" y1="562.08" x2="138.9" y2="562.08" stroke="#343436" stroke-width="1.4" stroke-linecap="butt"/>
<line x1="130.3" y1="580.16" x2="138.9" y2="580.16" stroke="#343436" stroke-width="1.4" stroke-linecap="butt"/>
<line x1="123.9" y1="598.23" x2="138.9" y2="598.23" stroke="#343436" stroke-width="1.4" stroke-linecap="butt"/>
<line x1="130.3" y1="616.31" x2="138.9" y2="616.31" stroke="#343436" stroke-width="1.4" stroke-linecap="butt"/>
<line x1="130.3" y1="634.39" x2="138.9" y2="634.39" stroke="#343436" stroke-width="1.4" stroke-linecap="butt"/>
<line x1="123.9" y1="652.47" x2="138.9" y2="652.47" stroke="#343436" stroke-width="1.4" stroke-linecap="butt"/>
<line x1="130.3" y1="670.54" x2="138.9" y2="670.54" stroke="#343436" stroke-width="1.4" stroke-linecap="butt"/>
<line x1="130.3" y1="688.62" x2="138.9" y2="688.62" stroke="#343436" stroke-width="1.4" stroke-linecap="butt"/>
<line x1="123.9" y1="706.7" x2="138.9" y2="706.7" stroke="#343436" stroke-width="1.4" stroke-linecap="butt"/>
<line x1="130.3" y1="724.78" x2="138.9" y2="724.78" stroke="#343436" stroke-width="1.4" stroke-linecap="butt"/>
<line x1="130.3" y1="742.86" x2="138.9" y2="742.86" stroke="#343436" stroke-width="1.4" stroke-linecap="butt"/>
<line x1="123.9" y1="760.93" x2="138.9" y2="760.93" stroke="#343436" stroke-width="1.4" stroke-linecap="butt"/>
<line x1="130.3" y1="779.01" x2="138.9" y2="779.01" stroke="#343436" stroke-width="1.4" stroke-linecap="butt"/>
<line x1="130.3" y1="797.09" x2="138.9" y2="797.09" stroke="#343436" stroke-width="1.4" stroke-linecap="butt"/>
<line x1="123.9" y1="815.17" x2="138.9" y2="815.17" stroke="#343436" stroke-width="1.4" stroke-linecap="butt"/>
<line x1="130.3" y1="833.24" x2="138.9" y2="833.24" stroke="#343436" stroke-width="1.4" stroke-linecap="butt"/>
<line x1="130.3" y1="851.32" x2="138.9" y2="851.32" stroke="#343436" stroke-width="1.4" stroke-linecap="butt"/>
<line x1="123.9" y1="869.4" x2="138.9" y2="869.4" stroke="#343436" stroke-width="1.4" stroke-linecap="butt"/>
<line x1="926.6" y1="544" x2="937.2" y2="544" stroke="#343436" stroke-width="1.4" stroke-linecap="butt"/>
<line x1="926.6" y1="555.62" x2="933.7" y2="555.62" stroke="#343436" stroke-width="1.4" stroke-linecap="butt"/>
<line x1="926.6" y1="567.24" x2="933.7" y2="567.24" stroke="#343436" stroke-width="1.4" stroke-linecap="butt"/>
<line x1="926.6" y1="578.86" x2="933.7" y2="578.86" stroke="#343436" stroke-width="1.4" stroke-linecap="butt"/>
<line x1="926.6" y1="590.49" x2="937.2" y2="590.49" stroke="#343436" stroke-width="1.4" stroke-linecap="butt"/>
<line x1="926.6" y1="602.11" x2="933.7" y2="602.11" stroke="#343436" stroke-width="1.4" stroke-linecap="butt"/>
<line x1="926.6" y1="613.73" x2="933.7" y2="613.73" stroke="#343436" stroke-width="1.4" stroke-linecap="butt"/>
<line x1="926.6" y1="625.35" x2="933.7" y2="625.35" stroke="#343436" stroke-width="1.4" stroke-linecap="butt"/>
<line x1="926.6" y1="636.97" x2="937.2" y2="636.97" stroke="#343436" stroke-width="1.4" stroke-linecap="butt"/>
<line x1="926.6" y1="648.59" x2="933.7" y2="648.59" stroke="#343436" stroke-width="1.4" stroke-linecap="butt"/>
<line x1="926.6" y1="660.21" x2="933.7" y2="660.21" stroke="#343436" stroke-width="1.4" stroke-linecap="butt"/>
<line x1="926.6" y1="671.84" x2="933.7" y2="671.84" stroke="#343436" stroke-width="1.4" stroke-linecap="butt"/>
<line x1="926.6" y1="683.46" x2="937.2" y2="683.46" stroke="#343436" stroke-width="1.4" stroke-linecap="butt"/>
<line x1="926.6" y1="695.08" x2="933.7" y2="695.08" stroke="#343436" stroke-width="1.4" stroke-linecap="butt"/>
<line x1="926.6" y1="706.7" x2="933.7" y2="706.7" stroke="#343436" stroke-width="1.4" stroke-linecap="butt"/>
<line x1="926.6" y1="718.32" x2="933.7" y2="718.32" stroke="#343436" stroke-width="1.4" stroke-linecap="butt"/>
<line x1="926.6" y1="729.94" x2="937.2" y2="729.94" stroke="#343436" stroke-width="1.4" stroke-linecap="butt"/>
<line x1="926.6" y1="741.56" x2="933.7" y2="741.56" stroke="#343436" stroke-width="1.4" stroke-linecap="butt"/>
<line x1="926.6" y1="753.19" x2="933.7" y2="753.19" stroke="#343436" stroke-width="1.4" stroke-linecap="butt"/>
<line x1="926.6" y1="764.81" x2="933.7" y2="764.81" stroke="#343436" stroke-width="1.4" stroke-linecap="butt"/>
<line x1="926.6" y1="776.43" x2="937.2" y2="776.43" stroke="#343436" stroke-width="1.4" stroke-linecap="butt"/>
<line x1="926.6" y1="788.05" x2="933.7" y2="788.05" stroke="#343436" stroke-width="1.4" stroke-linecap="butt"/>
<line x1="926.6" y1="799.67" x2="933.7" y2="799.67" stroke="#343436" stroke-width="1.4" stroke-linecap="butt"/>
<line x1="926.6" y1="811.29" x2="933.7" y2="811.29" stroke="#343436" stroke-width="1.4" stroke-linecap="butt"/>
<line x1="926.6" y1="822.91" x2="937.2" y2="822.91" stroke="#343436" stroke-width="1.4" stroke-linecap="butt"/>
<line x1="926.6" y1="834.54" x2="933.7" y2="834.54" stroke="#343436" stroke-width="1.4" stroke-linecap="butt"/>
<line x1="926.6" y1="846.16" x2="933.7" y2="846.16" stroke="#343436" stroke-width="1.4" stroke-linecap="butt"/>
<line x1="926.6" y1="857.78" x2="933.7" y2="857.78" stroke="#343436" stroke-width="1.4" stroke-linecap="butt"/>
<line x1="926.6" y1="869.4" x2="937.2" y2="869.4" stroke="#343436" stroke-width="1.4" stroke-linecap="butt"/>
<line x1="123.9" y1="869.4" x2="937.2" y2="869.4" stroke="#231f20" stroke-width="1.2" stroke-linecap="butt"/>
<line x1="176.6" y1="869.4" x2="176.6" y2="883.8" stroke="#343436" stroke-width="1.4" stroke-linecap="butt"/>
<line x1="264.95" y1="869.4" x2="264.95" y2="883.8" stroke="#343436" stroke-width="1.4" stroke-linecap="butt"/>
<line x1="353.3" y1="869.4" x2="353.3" y2="883.8" stroke="#343436" stroke-width="1.4" stroke-linecap="butt"/>
<line x1="441.65" y1="869.4" x2="441.65" y2="883.8" stroke="#343436" stroke-width="1.4" stroke-linecap="butt"/>
<line x1="530" y1="869.4" x2="530" y2="883.8" stroke="#343436" stroke-width="1.4" stroke-linecap="butt"/>
<line x1="618.35" y1="869.4" x2="618.35" y2="883.8" stroke="#343436" stroke-width="1.4" stroke-linecap="butt"/>
<line x1="706.7" y1="869.4" x2="706.7" y2="883.8" stroke="#343436" stroke-width="1.4" stroke-linecap="butt"/>
<line x1="795.05" y1="869.4" x2="795.05" y2="883.8" stroke="#343436" stroke-width="1.4" stroke-linecap="butt"/>
<line x1="883.4" y1="869.4" x2="883.4" y2="883.8" stroke="#343436" stroke-width="1.4" stroke-linecap="butt"/>
</g>
<g id="bot-labels">
<text x="112.9" y="552.75" font-size="25.0" text-anchor="end" >180</text>
<text x="112.9" y="606.98" font-size="25.0" text-anchor="end" >150</text>
<text x="112.9" y="661.22" font-size="25.0" text-anchor="end" >120</text>
<text x="112.9" y="715.45" font-size="25.0" text-anchor="end" >90</text>
<text x="112.9" y="769.68" font-size="25.0" text-anchor="end" >60</text>
<text x="112.9" y="823.92" font-size="25.0" text-anchor="end" >30</text>
<text x="112.9" y="878.15" font-size="25.0" text-anchor="end" >0</text>
<text x="947.3" y="552.75" font-size="25.0" text-anchor="start" >2.1</text>
<text x="947.3" y="599.24" font-size="25.0" text-anchor="start" >1.8</text>
<text x="947.3" y="645.72" font-size="25.0" text-anchor="start" >1.5</text>
<text x="947.3" y="692.21" font-size="25.0" text-anchor="start" >1.2</text>
<text x="947.3" y="738.69" font-size="25.0" text-anchor="start" >0.9</text>
<text x="947.3" y="785.18" font-size="25.0" text-anchor="start" >0.6</text>
<text x="947.3" y="831.66" font-size="25.0" text-anchor="start" >0.3</text>
<text x="947.3" y="878.15" font-size="25.0" text-anchor="start" >0</text>
<text x="514.24" y="496.9" font-size="25.2" textLength="37.49" lengthAdjust="spacingAndGlyphs">M9</text>
<text transform="translate(19.9 814.99) rotate(-90)" font-size="25.2" textLength="216.18" lengthAdjust="spacingAndGlyphs">Doubling time (min)</text>
<text transform="translate(1050.1 749.22) rotate(-90)" font-size="25.2" textLength="85.46" lengthAdjust="spacingAndGlyphs">MaxOD</text>
<text transform="translate(135.55 961.65) rotate(-45)" font-size="25.2" text-anchor="start" textLength="79.6" lengthAdjust="spacingAndGlyphs">TOP10</text>
<text transform="translate(219.1 962.8) rotate(-45)" font-size="25.2" text-anchor="start" textLength="81.66" lengthAdjust="spacingAndGlyphs">DH10B</text>
<text transform="translate(310.15 959.45) rotate(-45)" font-size="25.2" text-anchor="start" textLength="76.32" lengthAdjust="spacingAndGlyphs">Mach1</text>
<text transform="translate(409.55 946.55) rotate(-45)" font-size="25.2" text-anchor="start" textLength="57.91" lengthAdjust="spacingAndGlyphs">BL21</text>
<text transform="translate(475.35 974.95) rotate(-45)" font-size="25.2" text-anchor="start" textLength="96.82" lengthAdjust="spacingAndGlyphs">MG1655</text>
<text transform="translate(549.5 986.3) rotate(-45)" font-size="25.2" text-anchor="start" textLength="106.31" lengthAdjust="spacingAndGlyphs">rEcΔ1.ΔA</text>
<text transform="translate(621.3 1006.9) rotate(-45)" font-size="25.2" text-anchor="start" textLength="141.56" lengthAdjust="spacingAndGlyphs">rEcΔ2.ΔA.B1</text>
<text transform="translate(708.55 1007.25) rotate(-45)" font-size="25.2" text-anchor="start" textLength="143.68" lengthAdjust="spacingAndGlyphs">rEcΔ2.ΔA.B3</text>
<text transform="translate(769.3 1039.7) rotate(-45)" font-size="25.2"><tspan textLength="182.16" lengthAdjust="spacingAndGlyphs">rEcΔ2.ΔA.B3.tW</tspan><tspan font-size="20.5" dx="-1.7" dy="-4.8">*</tspan></text>
</g>
<rect x="34.3" y="697.0" width="19.8" height="19.8" fill="#f28f2f" stroke="#231f20" stroke-width="2"/>
<rect x="1000.5" y="696.7" width="20.7" height="20.4" fill="#6b6f72" stroke="#231f20" stroke-width="2"/>
<g id="bot-sig">
<text transform="translate(185.91 837.47) rotate(-90)" font-size="27.0">*</text>
<text transform="translate(185.91 849.47) rotate(-90)" font-size="27.0">*</text>
<text transform="translate(185.91 861.47) rotate(-90)" font-size="27.0">*</text>
<text transform="translate(202.41 837.47) rotate(-90)" font-size="27.0">*</text>
<text transform="translate(202.41 849.47) rotate(-90)" font-size="27.0">*</text>
<text transform="translate(202.41 861.47) rotate(-90)" font-size="27.0">*</text>
<text transform="translate(273.21 837.47) rotate(-90)" font-size="27.0">*</text>
<text transform="translate(273.21 849.47) rotate(-90)" font-size="27.0">*</text>
<text transform="translate(273.21 861.47) rotate(-90)" font-size="27.0">*</text>
<text transform="translate(290.9 837.47) rotate(-90)" font-size="27.0">*</text>
<text transform="translate(290.9 849.47) rotate(-90)" font-size="27.0">*</text>
<text transform="translate(290.9 861.47) rotate(-90)" font-size="27.0">*</text>
<text transform="translate(353 728.87) rotate(-90)" font-size="27.0">*</text>
<text transform="translate(353 740.97) rotate(-90)" font-size="27.0">*</text>
<text transform="translate(353 753.16) rotate(-90)" font-size="27.0">*</text>
<text transform="translate(385.9 528.87) rotate(-90)" font-size="27.0">*</text>
<text transform="translate(385.9 541.26) rotate(-90)" font-size="27.0">*</text>
<text transform="translate(385.9 553.76) rotate(-90)" font-size="27.0">*</text>
<text transform="translate(441.9 705.66) rotate(-90)" font-size="27.0">*</text>
<text transform="translate(441.9 717.97) rotate(-90)" font-size="27.0">*</text>
<text transform="translate(441.9 730.26) rotate(-90)" font-size="27.0">*</text>
<text transform="translate(528.9 706.06) rotate(-90)" font-size="27.0">*</text>
<text transform="translate(528.9 718.56) rotate(-90)" font-size="27.0">*</text>
<text transform="translate(528.9 731.06) rotate(-90)" font-size="27.0">*</text>
<text transform="translate(561.9 677.26) rotate(-90)" font-size="27.0">*</text>
<text transform="translate(561.9 689.37) rotate(-90)" font-size="27.0">*</text>
<text transform="translate(561.9 701.47) rotate(-90)" font-size="27.0">*</text>
<text transform="translate(707 615.16) rotate(-90)" font-size="27.0">*</text>
<text transform="translate(707 626.87) rotate(-90)" font-size="27.0">*</text>
<text transform="translate(707 638.56) rotate(-90)" font-size="27.0">*</text>
<text transform="translate(739.9 723.06) rotate(-90)" font-size="27.0">*</text>
<text transform="translate(739.9 734.87) rotate(-90)" font-size="27.0">*</text>
<text transform="translate(794.8 593.87) rotate(-90)" font-size="27.0">*</text>
<text transform="translate(794.8 605.66) rotate(-90)" font-size="27.0">*</text>
<text transform="translate(794.8 617.66) rotate(-90)" font-size="27.0">*</text>
<text transform="translate(827.11 727.56) rotate(-90)" font-size="27.0">*</text>
<text transform="translate(883.2 570.47) rotate(-90)" font-size="27.0">*</text>
<text transform="translate(883.2 582.87) rotate(-90)" font-size="27.0">*</text>
<text transform="translate(883.2 595.16) rotate(-90)" font-size="27.0">*</text>
<text transform="translate(915.8 720.16) rotate(-90)" font-size="27.0">*</text>
<text x="441.79" y="740.4" font-size="25.2" textLength="34.95" lengthAdjust="spacingAndGlyphs">NS</text>
</g>
<g id="bot-dots" fill="none" stroke="#231f20" stroke-width="1.25">
<circle cx="334.5" cy="765.2" r="1.75"/>
<circle cx="340.2" cy="763.4" r="1.75"/>
<circle cx="343.4" cy="762" r="1.75"/>
<circle cx="331.6" cy="776.8" r="1.75"/>
<circle cx="337.2" cy="775.8" r="1.75"/>
<circle cx="342.6" cy="775.8" r="1.75"/>
<circle cx="337" cy="769.5" r="1.75"/>
<circle cx="370.1" cy="565.8" r="1.75"/>
<circle cx="367" cy="586.2" r="1.75"/>
<circle cx="373.1" cy="586.2" r="1.75"/>
<circle cx="370.1" cy="596.5" r="1.75"/>
<circle cx="370.1" cy="606.3" r="1.75"/>
<circle cx="370.1" cy="620.3" r="1.75"/>
<circle cx="370.1" cy="624.5" r="1.75"/>
<circle cx="425.3" cy="740.6" r="1.75"/>
<circle cx="415.9" cy="754.8" r="1.75"/>
<circle cx="422" cy="754.3" r="1.75"/>
<circle cx="428.1" cy="757" r="1.75"/>
<circle cx="435.1" cy="754.8" r="1.75"/>
<circle cx="425.3" cy="763.5" r="1.75"/>
<circle cx="425.3" cy="769.6" r="1.75"/>
<circle cx="458.6" cy="752" r="1.75"/>
<circle cx="458.6" cy="758.3" r="1.75"/>
<circle cx="455.7" cy="764.4" r="1.75"/>
<circle cx="461.9" cy="763.7" r="1.75"/>
<circle cx="455.7" cy="770.4" r="1.75"/>
<circle cx="461.9" cy="767.4" r="1.75"/>
<circle cx="458.6" cy="761.2" r="1.75"/>
<circle cx="513.8" cy="741.9" r="1.75"/>
<circle cx="508.1" cy="748.9" r="1.75"/>
<circle cx="513.8" cy="748.1" r="1.75"/>
<circle cx="520" cy="748.1" r="1.75"/>
<circle cx="513.8" cy="752.5" r="1.75"/>
<circle cx="513.8" cy="755.8" r="1.75"/>
<circle cx="547" cy="713" r="1.75"/>
<circle cx="547" cy="739.7" r="1.75"/>
<circle cx="537.3" cy="744.4" r="1.75"/>
<circle cx="537.3" cy="747.6" r="1.75"/>
<circle cx="543.5" cy="746.9" r="1.75"/>
<circle cx="550.2" cy="746.9" r="1.75"/>
<circle cx="556.4" cy="745.6" r="1.75"/>
<circle cx="593" cy="698.6" r="1.75"/>
<circle cx="599.2" cy="697.4" r="1.75"/>
<circle cx="605.3" cy="694.9" r="1.75"/>
<circle cx="612" cy="698.6" r="1.75"/>
<circle cx="602.4" cy="704.3" r="1.75"/>
<circle cx="602.4" cy="712.5" r="1.75"/>
<circle cx="632.6" cy="756.3" r="1.75"/>
<circle cx="638.7" cy="755" r="1.75"/>
<circle cx="626.4" cy="771.1" r="1.75"/>
<circle cx="626.4" cy="774.8" r="1.75"/>
<circle cx="632.6" cy="770.4" r="1.75"/>
<circle cx="638.7" cy="773.6" r="1.75"/>
<circle cx="644.9" cy="773.6" r="1.75"/>
<circle cx="687.6" cy="647.2" r="1.75"/>
<circle cx="694.7" cy="645.3" r="1.75"/>
<circle cx="691.3" cy="661" r="1.75"/>
<circle cx="687.6" cy="668.4" r="1.75"/>
<circle cx="694.7" cy="666.9" r="1.75"/>
<circle cx="694.7" cy="671.5" r="1.75"/>
<circle cx="691.3" cy="680.1" r="1.75"/>
<circle cx="724.2" cy="740.2" r="1.75"/>
<circle cx="720.8" cy="747.9" r="1.75"/>
<circle cx="727.6" cy="746.3" r="1.75"/>
<circle cx="720.8" cy="752.5" r="1.75"/>
<circle cx="724.2" cy="753.4" r="1.75"/>
<circle cx="727.6" cy="754.6" r="1.75"/>
<circle cx="720.8" cy="757.7" r="1.75"/>
<circle cx="779.7" cy="631.8" r="1.75"/>
<circle cx="776.3" cy="639.5" r="1.75"/>
<circle cx="783" cy="638.5" r="1.75"/>
<circle cx="776.3" cy="643.2" r="1.75"/>
<circle cx="783" cy="643.8" r="1.75"/>
<circle cx="779.7" cy="651.5" r="1.75"/>
<circle cx="779.7" cy="663.8" r="1.75"/>
<circle cx="812.9" cy="741.7" r="1.75"/>
<circle cx="806.5" cy="779.3" r="1.75"/>
<circle cx="812.9" cy="779.3" r="1.75"/>
<circle cx="819.4" cy="777.1" r="1.75"/>
<circle cx="819.4" cy="780.2" r="1.75"/>
<circle cx="812.9" cy="784.8" r="1.75"/>
<circle cx="812.9" cy="789.4" r="1.75"/>
<circle cx="868" cy="608.7" r="1.75"/>
<circle cx="874.8" cy="607.7" r="1.75"/>
<circle cx="861.3" cy="617.6" r="1.75"/>
<circle cx="874.8" cy="617.6" r="1.75"/>
<circle cx="864.7" cy="623.8" r="1.75"/>
<circle cx="871.4" cy="621.6" r="1.75"/>
<circle cx="868" cy="615.4" r="1.75"/>
<circle cx="901.3" cy="728.5" r="1.75"/>
<circle cx="901.3" cy="753.4" r="1.75"/>
<circle cx="894.8" cy="762.6" r="1.75"/>
<circle cx="901.3" cy="759.3" r="1.75"/>
<circle cx="907.8" cy="758.6" r="1.75"/>
<circle cx="907.8" cy="762.3" r="1.75"/>
</g>
</g>
</svg></body></html>
